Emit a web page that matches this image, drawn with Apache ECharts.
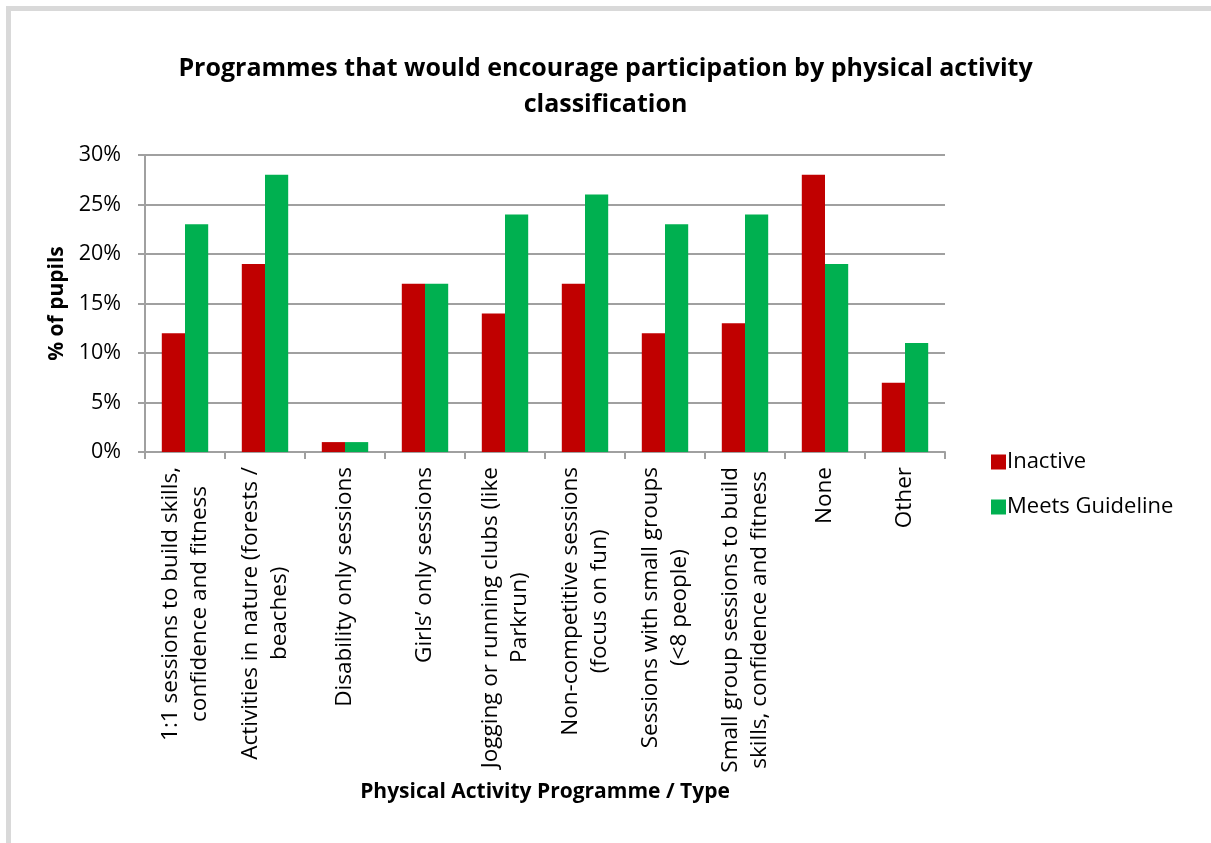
<!DOCTYPE html>
<html>
<head>
<meta charset="utf-8">
<script src="https://cdn.jsdelivr.net/npm/echarts@6/dist/echarts.min.js"></script>
<style>
  html, body { margin: 0; padding: 0; background: #ffffff; }
  #chart { width: 1211px; height: 843px; }
</style>
</head>
<body>
<div id="chart"></div>
<script>
// Programme categories (two-line labels where the text wraps)
const categories = [
  '1:1 sessions to build skills,\nconfidence and fitness',
  'Activities in nature (forests /\nbeaches)',
  'Disability only sessions',
  'Girls\u2019 only sessions',
  'Jogging or running clubs (like\nParkrun)',
  'Non-competitive sessions\n(focus on fun)',
  'Sessions with small groups\n(<8 people)',
  'Small group sessions to build\nskills, confidence and fitness',
  'None',
  'Other'
];

// Share of pupils (%) by physical activity classification
const inactive = [12, 19, 1, 17, 14, 17, 12, 13, 28, 7];
const meetsGuideline = [23, 28, 1, 17, 24, 26, 23, 24, 19, 11];

const seriesNames = ['Inactive', 'Meets Guideline'];
const yTicks = { min: 0, max: 30, interval: 5 };

const FONT = '"Open Sans", "Noto Sans", sans-serif';
const chart = echarts.init(document.getElementById('chart'), null, { renderer: 'canvas' });

chart.setOption({
  backgroundColor: '#ffffff',
  animation: false,
  graphic: [{
    type: 'rect',
    shape: { x: 8.5, y: 8.5, width: 1400, height: 1000 },
    style: { fill: 'none', stroke: '#d9d9d9', lineWidth: 5 },
    silent: true
  }],
  title: {
    text: 'Programmes that would encourage participation by physical activity\nclassification',
    left: 'center',
    top: 46,
    textStyle: {
      fontFamily: FONT,
      fontWeight: 'bold',
      fontSize: 25,
      lineHeight: 36,
      color: '#000000'
    }
  },
  legend: {
    orient: 'vertical',
    left: 986,
    top: 446,
    itemWidth: 15,
    itemHeight: 15,
    itemGap: 23,
    icon: 'rect',
    data: seriesNames,
    textStyle: { fontFamily: FONT, fontSize: 22, color: '#000000', padding: [0, 0, 0, -4] }
  },
  grid: { left: 145, right: 266, top: 155, bottom: 391 },
  xAxis: {
    type: 'category',
    data: categories,
    name: 'Physical Activity Programme / Type',
    nameLocation: 'middle',
    nameGap: 330,
    nameTextStyle: { fontFamily: FONT, fontWeight: 'bold', fontSize: 21, color: '#000000' },
    axisLine: { lineStyle: { color: '#a0a0a0', width: 2 } },
    axisTick: { show: true, length: 7, lineStyle: { color: '#a0a0a0', width: 2 } },
    axisLabel: {
      interval: 0,
      rotate: 90,
      margin: 15,
      formatter: function (v) {
        return v.split('\n').map(function (s) { return '{c|' + s + '}'; }).join('\n');
      },
      rich: {
        c: { align: 'center', fontFamily: FONT, fontSize: 22.5, lineHeight: 29, color: '#000000' }
      }
    }
  },
  yAxis: {
    type: 'value',
    min: yTicks.min,
    max: yTicks.max,
    interval: yTicks.interval,
    name: '% of pupils',
    nameLocation: 'middle',
    nameRotate: 90,
    nameGap: 72,
    nameTextStyle: { fontFamily: FONT, fontWeight: 'bold', fontSize: 21, color: '#000000' },
    axisLine: { show: true, lineStyle: { color: '#a0a0a0', width: 2 } },
    axisTick: { show: true, length: 7, lineStyle: { color: '#a0a0a0', width: 2 } },
    splitLine: { show: true, lineStyle: { color: '#a0a0a0', width: 2 } },
    axisLabel: {
      margin: 24,
      fontFamily: FONT,
      fontSize: 21.5,
      color: '#000000',
      formatter: '{value}%'
    }
  },
  series: [
    {
      name: seriesNames[0],
      type: 'bar',
      data: inactive,
      barGap: '0%',
      barCategoryGap: '42%',
      itemStyle: { color: '#c00000' }
    },
    {
      name: seriesNames[1],
      type: 'bar',
      data: meetsGuideline,
      barGap: '0%',
      barCategoryGap: '42%',
      itemStyle: { color: '#00b050' }
    }
  ]
});
</script>
</body>
</html>
